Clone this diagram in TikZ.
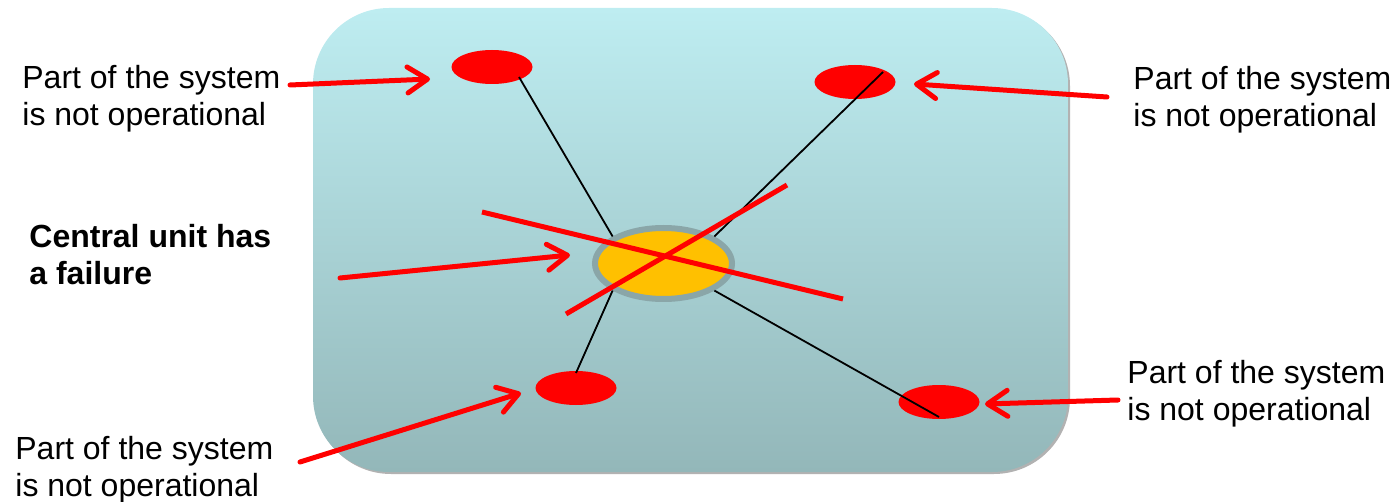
\documentclass[tikz,border=0pt]{standalone}
\usepackage{fontspec}
\setmainfont{Liberation Sans}
\usetikzlibrary{shapes.geometric, arrows.meta, positioning, calc}
\definecolor{panetop}{RGB}{190,237,241}
\definecolor{panebot}{RGB}{147,183,185}
\definecolor{hubfill}{RGB}{255,192,0}
\definecolor{hubedge}{RGB}{138,166,168}
\tikzstyle{redarrow} = [line width=2.5pt, red, line cap=round, -{Straight Barb[length=10pt, width=13pt, round]}]

\begin{document}
\begin{tikzpicture}[x=0.5pt, y=-0.5pt,
    spot/.style={ellipse, fill=red, minimum width=40.5pt, minimum height=17pt, inner sep=0pt},
    hubnode/.style={ellipse, draw=hubedge, line width=3pt, fill=hubfill, minimum width=68.5pt, minimum height=35.5pt, inner sep=0pt},
    msg/.style={anchor=north west, align=left, inner sep=0pt, font=\fontsize{16}{18.5}\selectfont},
    link/.style={black, line width=0.9pt},
    cross/.style={red, line width=2.5pt},
]
\useasboundingbox (0,0) rectangle (1398,502);

% Panel
\fill[gray!60, rounded corners=38pt] (315,10) rectangle (1070,474);
\shade[top color=panetop, bottom color=panebot, rounded corners=38pt] (313,8) rectangle (1068,472);

% Parts of the system
\node[spot] (tl) at (492,67) {};
\node[spot] (tr) at (855,82) {};
\node[spot] (bl) at (576,388) {};
\node[spot] (br) at (939,402) {};

% Central unit
\node[hubnode] (hub) at (663.5,263.5) {};

% Links
\coordinate (tl-end) at (519,77);
\coordinate (tr-end) at (883,72);
\coordinate (bl-end) at (576,373);
\coordinate (br-end) at (939,417);
\draw[link] (tl-end) -- (hub.152);
\draw[link] (tr-end) -- (hub.28);
\draw[link] (bl-end) -- (hub.208);
\draw[link] (br-end) -- (hub.332);

% Crossed out
\coordinate (x1a) at (482,212);
\coordinate (x1b) at (843,299);
\coordinate (x2a) at (566,314);
\coordinate (x2b) at (787,185);
\draw[cross] (x1a) -- (x1b);
\draw[cross] (x2a) -- (x2b);

% Texts
\node[msg] (tl-txt) at (22,65) {Part of the system\\is not operational};
\node[msg] (tr-txt) at (1133,66) {Part of the system\\is not operational};
\node[msg, font=\fontsize{16}{18.5}\selectfont\bfseries] (hub-txt) at (29,224) {Central unit has\\a failure};
\node[msg] (bl-txt) at (15,436) {Part of the system\\is not operational};
\node[msg] (br-txt) at (1127,360) {Part of the system\\is not operational};

% Arrows
\coordinate (tl-from) at (290,85);   \coordinate (tl-to) at (430,79);
\coordinate (tr-from) at (1107,97);  \coordinate (tr-to) at (914,84);
\coordinate (hub-from) at (340,278); \coordinate (hub-to) at (570,255);
\coordinate (bl-from) at (300,462);  \coordinate (bl-to) at (521,393);
\coordinate (br-from) at (1118,400); \coordinate (br-to) at (985,404);
\foreach \n in {tl, tr, hub, bl, br}
    \draw[redarrow] (\n-from) -- (\n-to);

\end{tikzpicture}
\end{document}
